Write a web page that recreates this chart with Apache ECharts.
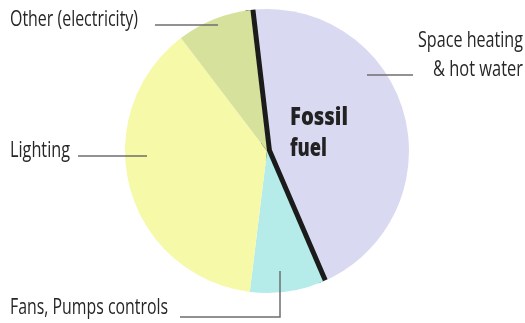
<!DOCTYPE html>
<html>
<head>
<meta charset="utf-8">
<script src="https://cdn.jsdelivr.net/npm/echarts@6/dist/echarts.min.js"></script>
<style>
  html, body { margin: 0; padding: 0; background: #ffffff; }
  #chart { width: 525px; height: 323px; }
</style>
</head>
<body>
<div id="chart"></div>
<script>
// Building energy use, share by end use (%)
const categories = ['Space heating\n& hot water', 'Fans, Pumps controls', 'Lighting', 'Other (electricity)'];
const shares = [45.4, 8.4, 37.7, 8.5];
const fuelNote = ['Fossil', 'fuel'];

// Slice fills, in category order
const sliceColors = ['#d9daf2', '#b5ecea', '#f6f9a8', '#d6e29c'];

// Label anchors (cap-centre y), text widths and leader-line paths, in pixels
const labelSpots = [
  { x: 523, y: [41, 70], align: 'right', widths: [105, 90], line: [[367, 75], [413, 75]] },
  { x: 10, y: [308], align: 'left', widths: [158], line: [[280, 271], [280, 317], [180, 317]] },
  { x: 10, y: [151], align: 'left', widths: [60], line: [[147, 156], [78, 156]] },
  { x: 10, y: [20], align: 'left', widths: [128], line: [[218, 25], [155, 25]] }
];
const noteSpot = { x: 290, y: [118, 149], widths: [58, 37] };

const FONT = '"Open Sans", "DejaVu Sans", sans-serif';
const LABEL_FONT = '500 21px ' + FONT;
const NOTE_FONT = '800 24px ' + FONT;
const CENTER = [267, 151];
const R = 142;
const START = 96.7;
const SEP = 10;   // outline width; the inner half shows

// Horizontal squeeze needed to set a string at a given width
const measureCtx = document.createElement('canvas').getContext('2d');
function squeeze(text, font, width) {
  measureCtx.font = font;
  return width / measureCtx.measureText(text).width;
}

const total = shares.reduce((a, b) => a + b, 0);
const heatArc = R * (shares[0] / total) * Math.PI * 2;

const chart = echarts.init(document.getElementById('chart'), null, { renderer: 'canvas' });

const mainData = categories.map((name, i) => ({
  name,
  value: shares[i],
  itemStyle: i === 0
    ? {
        color: sliceColors[i],
        borderColor: '#1b1b1b',
        borderWidth: SEP,
        borderJoin: 'miter',
        borderCap: 'butt',
        // skip the outer arc, keep the two straight edges
        borderType: [R * 4, heatArc],
        borderDashOffset: R * 4
      }
    : { color: sliceColors[i], borderWidth: 0 }
}));

const graphics = [];
categories.forEach((name, i) => {
  const s = labelSpots[i];
  name.split('\n').forEach((txt, k) => {
    graphics.push({
      type: 'text',
      x: s.x,
      y: s.y[k],
      scaleX: squeeze(txt, LABEL_FONT, s.widths[k]),
      z: 20,
      silent: true,
      style: {
        text: txt,
        font: LABEL_FONT,
        fill: '#262626',
        align: s.align,
        verticalAlign: 'middle'
      }
    });
  });
  graphics.push({
    type: 'polyline',
    z: 20,
    silent: true,
    shape: { points: s.line },
    style: { stroke: '#6e6e6e', lineWidth: 1.5, fill: null }
  });
});
fuelNote.forEach((txt, k) => {
  graphics.push({
    type: 'text',
    x: noteSpot.x,
    y: noteSpot.y[k],
    scaleX: squeeze(txt, NOTE_FONT, noteSpot.widths[k]),
    z: 20,
    silent: true,
    style: {
      text: txt,
      font: NOTE_FONT,
      fill: '#222222',
      align: 'left',
      verticalAlign: 'middle'
    }
  });
});

chart.setOption({
  animation: false,
  backgroundColor: '#ffffff',
  series: [
    {
      type: 'pie',
      center: CENTER,
      radius: [0, R],
      startAngle: START,
      clockwise: true,
      data: mainData,
      label: { show: false },
      labelLine: { show: false },
      emphasis: { disabled: true }
    }
  ],
  graphic: graphics
});
</script>
</body>
</html>
